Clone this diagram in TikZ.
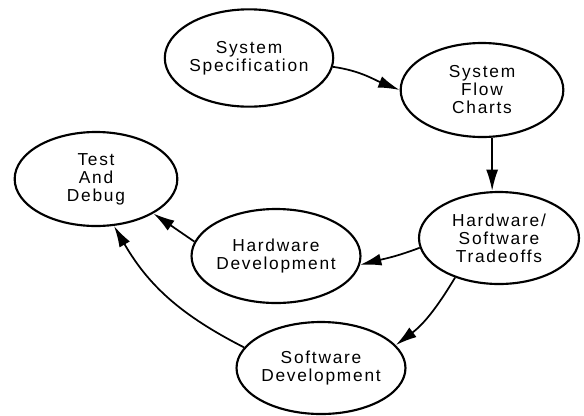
\documentclass[tikz,border=0pt]{standalone}
\usepackage{fontspec}
\setmainfont{Liberation Sans}[LetterSpace=10]
\usetikzlibrary{shapes.geometric,arrows.meta}

\tikzset{every picture/.style={line width=0.75pt}}
\tikzset{
  stage/.style={draw, ellipse, line width=1.6pt, inner sep=0pt, align=center,
    font=\fontsize{13}{13.5}\selectfont, minimum width=122pt, minimum height=70.5pt},
  flowarrow/.style={line width=1.3pt, -{Latex[length=16pt,width=9pt]}},
}

\begin{document}
\begin{tikzpicture}[x=0.75pt,y=0.75pt,yscale=-1,xscale=1]
\useasboundingbox (0,0) rectangle (584,415);

%Shape: Ellipse
\node[stage, minimum width=126pt, minimum height=73pt] (spec) at (249,58) {System\\Specification};
%Shape: Ellipse
\node[stage] (flow) at (482,90) {System\\Flow\\Charts};
%Shape: Ellipse
\node[stage] (test) at (96,179) {Test\\And\\Debug};
%Shape: Ellipse
\node[stage, minimum width=120pt, minimum height=69pt] (trade) at (499,238) {Hardware/\\Software\\Tradeoffs};
%Shape: Ellipse
\node[stage] (hwdev) at (276,256) {Hardware\\Development};
%Shape: Ellipse
\node[stage, minimum height=69pt] (swdev) at (321,368) {Software\\Development};

%Curve Lines
\draw[flowarrow] (spec.354) to[out=8,in=202] (flow.west);
%Straight Lines
\draw[flowarrow] (flow.282) -- (flow.282 |- trade.north);
%Curve Lines
\draw[flowarrow] (trade.187) to[out=159,in=346] (hwdev.354);
%Curve Lines
\draw[flowarrow] (trade.222) to[out=121,in=323] (swdev.17);
%Straight Lines
\draw[flowarrow] (hwdev.170) -- (test.329);
%Curve Lines
\draw[flowarrow] (swdev.165) to[out=207,in=60] (test.291);

\end{tikzpicture}
\end{document}
